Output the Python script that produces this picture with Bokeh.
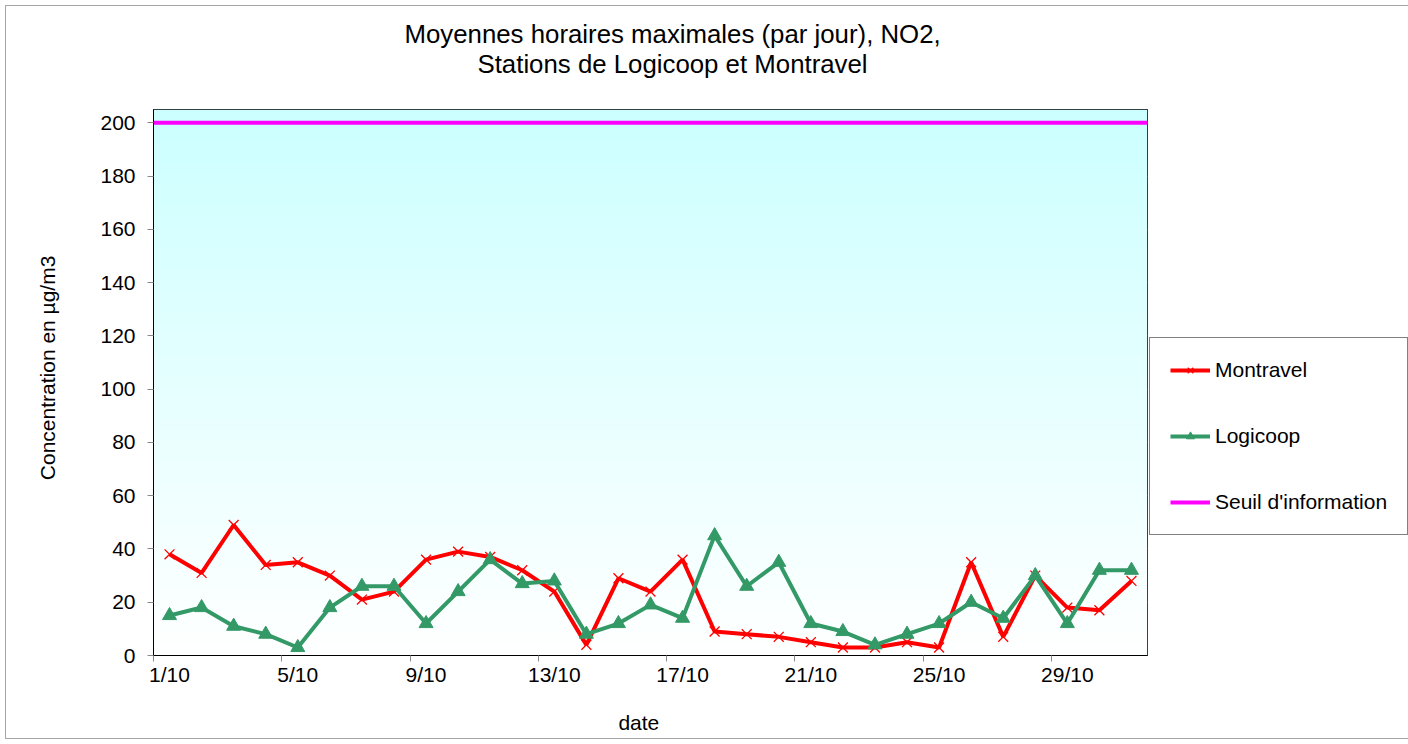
import numpy as np
from bokeh.plotting import figure
from bokeh.models import (FixedTicker, Legend, LegendItem, Title, Range1d)
from bokeh.embed import file_html
from bokeh.resources import INLINE

# ---- data ----
days = list(range(1, 32))
montravel = [38, 31, 49, 34, 35, 30, 21, 24, 36, 39, 37, 32, 24, 4, 29, 24, 36,
             9, 8, 7, 5, 3, 3, 5, 3, 35, 7, 30, 18, 17, 28]
logicoop = [15, 18, 11, 8, 3, 18, 26, 26, 12, 24, 36, 27, 28, 8, 12, 19, 14,
            45, 26, 35, 12, 9, 4, 8, 12, 20, 14, 30, 12, 32, 32]
tick_days = [1, 5, 9, 13, 17, 21, 25, 29]
tick_labels = ["1/10", "5/10", "9/10", "13/10", "17/10", "21/10", "25/10", "29/10"]
SEUIL = 200
y_ticks = [0, 20, 40, 60, 80, 100, 120, 140, 160, 180, 200]
title_lines = ["Moyennes horaires maximales (par jour), NO2,",
               "Stations de Logicoop et Montravel"]

FONT = "Liberation Sans"
X_START, X_END = 0.5, 31.5
Y_START, Y_END = 0, 205
NBSP = "\u00a0"

p = figure(frame_width=994, frame_height=546, output_backend="svg",
           toolbar_location=None,
           x_range=Range1d(X_START, X_END), y_range=Range1d(Y_START, Y_END),
           min_border_left=153, min_border_right=261, min_border_top=109,
           min_border_bottom=89)
p.border_fill_color = None
p.styles = {"outline": "1px solid #a6a6a6", "outline-offset": "-6px"}

# title (two lines, line closest to plot added first)
p.title = None
title_style = dict(align="left", text_font=FONT, text_font_size="25.8px",
                   text_font_style="normal", text_color="black")
try:
    t2 = Title(text=title_lines[1], offset=324, standoff=0,
               padding=dict(left=0, right=0, top=0, bottom=32), **title_style)
except Exception:
    t2 = Title(text=title_lines[1], offset=324, standoff=0,
               padding=(0, 0, 0, 32), **title_style)
p.add_layout(t2, "above")
p.add_layout(Title(text=title_lines[0], offset=251, standoff=0, **title_style), "above")

# gradient background (light cyan at top to white at bottom)
n = 256
frac = np.linspace(0, 1, n)
img = np.empty((n, 1), dtype=np.uint32)
view = img.view(dtype=np.uint8).reshape((n, 1, 4))
view[:, 0, 0] = (255 - 51 * frac).astype(np.uint8)
view[:, 0, 1] = 255
view[:, 0, 2] = 255
view[:, 0, 3] = 255
p.image_rgba(image=[img], x=X_START, y=Y_START, dw=X_END - X_START, dh=Y_END - Y_START)

p.outline_line_color = "black"
p.outline_line_width = 1
p.background_fill_color = "white"

# grid
p.xgrid.grid_line_color = None
p.ygrid.ticker = FixedTicker(ticks=y_ticks)
p.ygrid.grid_line_color = "#8a8a8a"
p.ygrid.grid_line_dash = "2 2"
p.ygrid.grid_line_width = 1

# axes
p.yaxis.ticker = FixedTicker(ticks=y_ticks)
p.yaxis.axis_label = NBSP * 5 + "Concentration en µg/m3"
p.yaxis.major_tick_out = 6
p.yaxis.major_tick_in = 0
p.yaxis.major_tick_line_color = "#8a8a8a"
p.yaxis.minor_tick_line_color = None
p.yaxis.major_label_standoff = 12
p.yaxis.axis_label_standoff = 38

p.xaxis.ticker = FixedTicker(ticks=tick_days,
                             minor_ticks=[d - 0.5 for d in tick_days])
p.xaxis.major_label_overrides = {d: lab for d, lab in zip(tick_days, tick_labels)}
p.xaxis.axis_label = "date" + NBSP * 4
p.xaxis.major_tick_line_color = None
p.xaxis.major_tick_out = 0
p.xaxis.major_tick_in = 0
p.xaxis.minor_tick_line_color = "#8a8a8a"
p.xaxis.minor_tick_out = 6
p.xaxis.minor_tick_in = 0
p.xaxis.major_label_standoff = 1
p.xaxis.axis_label_standoff = 22

for ax in (p.xaxis, p.yaxis):
    ax.axis_line_color = "black"
    ax.axis_line_width = 1
    ax.major_label_text_font = FONT
    ax.major_label_text_font_size = "21px"
    ax.major_label_text_color = "black"
    ax.axis_label_text_font = FONT
    ax.axis_label_text_font_size = "21px"
    ax.axis_label_text_font_style = "normal"
    ax.axis_label_text_color = "black"

# series
RED = "#ff0000"
GREEN = "#339966"
MAGENTA = "#ff00ff"
r3 = p.line(x=[X_START, X_END], y=[SEUIL, SEUIL], line_color=MAGENTA, line_width=4)
r1l = p.line(days, montravel, line_color=RED, line_width=4)
r1m = p.scatter(days, montravel, marker="x", size=14, line_color=RED, line_width=1.3)
r2l = p.line(days, logicoop, line_color=GREEN, line_width=4)
r2m = p.scatter(days, logicoop, marker="triangle", size=14, line_color=GREEN,
                fill_color=GREEN)

legend = Legend(items=[LegendItem(label="Montravel", renderers=[r1l, r1m]),
                       LegendItem(label="Logicoop", renderers=[r2l, r2m]),
                       LegendItem(label="Seuil d'information", renderers=[r3])],
                location=(2, 120), orientation="vertical",
                label_text_font=FONT, label_text_font_size="21px",
                label_text_color="black",
                glyph_width=40, glyph_height=20, label_standoff=5,
                spacing=42, padding=20, margin=0, border_line_width=1,
                border_line_color="black", background_fill_color="white",
                background_fill_alpha=1)
p.add_layout(legend, "right")

open("out.html", "w").write(file_html(p, INLINE))
